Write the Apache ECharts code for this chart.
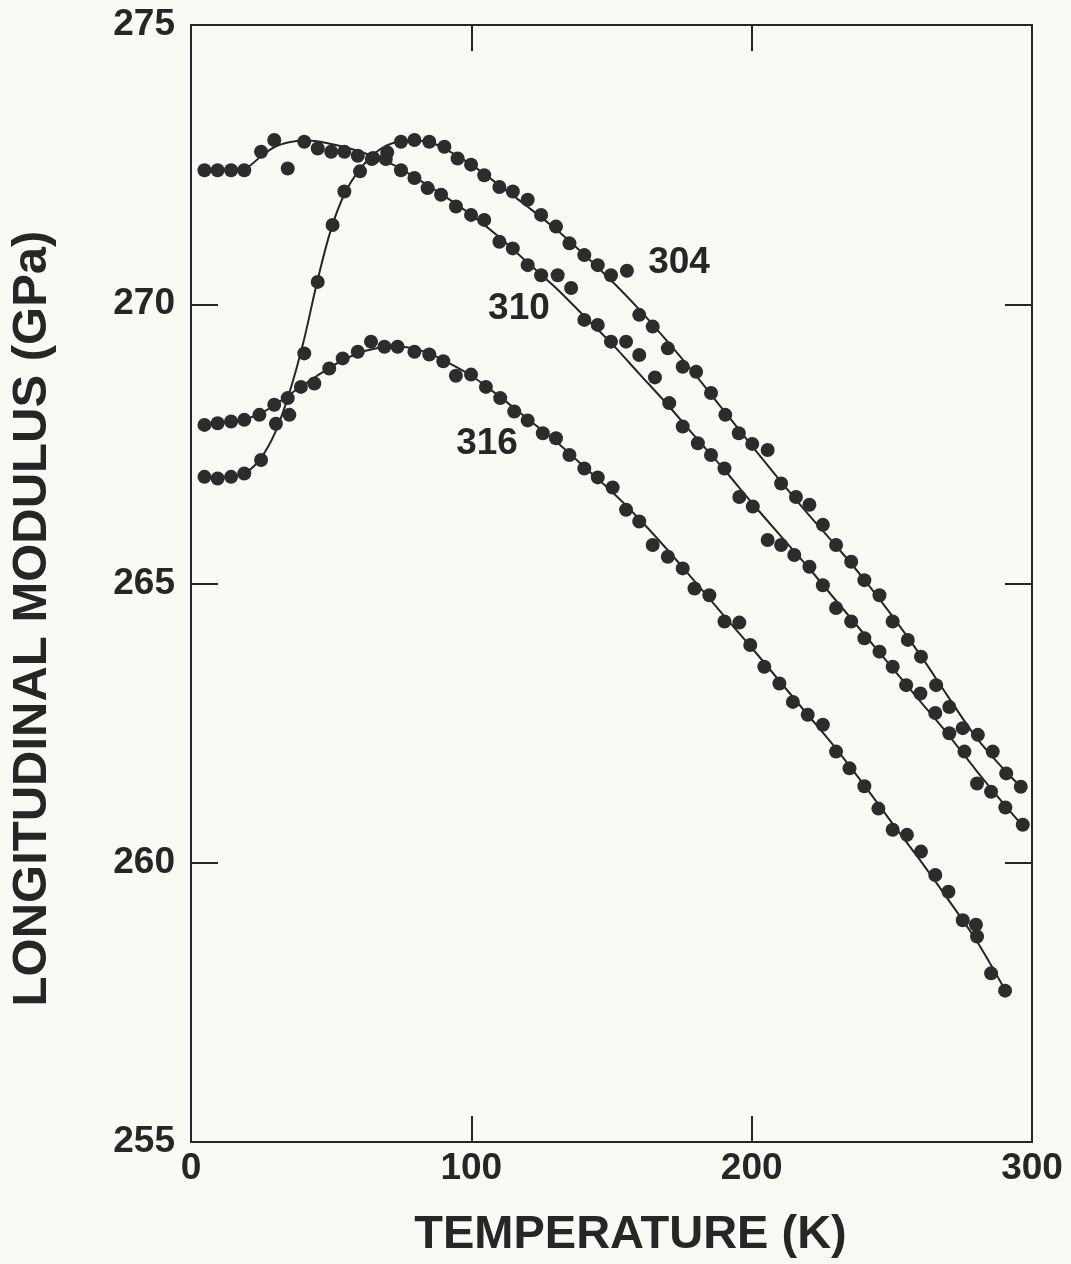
<!DOCTYPE html>
<html>
<head>
<meta charset="utf-8">
<script src="https://cdn.jsdelivr.net/npm/echarts@6/dist/echarts.min.js"></script>
<style>
  html, body { margin: 0; padding: 0; background: #fafaf5; }
  #chart { width: 1071px; height: 1264px; }
</style>
</head>
<body>
<div id="chart"></div>
<script>
// Longitudinal modulus of austenitic stainless steels vs. temperature

// measured points, alloy 304: [T (K), modulus (GPa)]
const dots304 = [
  [4.8,266.91],[9.5,266.88],[14.3,266.91],[19.0,266.97],[25.0,267.21],[30.3,267.86],
  [35.1,268.02],[40.4,269.12],[45.2,270.40],[50.5,271.42],[54.7,272.02],[60.3,272.38],
  [65.0,272.62],[70.0,272.72],[74.9,272.91],[79.7,272.94],[85.0,272.91],[90.4,272.82],
  [95.1,272.61],[99.9,272.50],[104.6,272.31],[110.0,272.10],[114.8,272.02],[120.1,271.87],
  [124.9,271.60],[130.2,271.39],[135.0,271.09],[140.3,270.88],[145.1,270.70],[149.8,270.52],
  [155.5,270.60],[159.9,269.81],[164.7,269.60],[170.1,269.21],[175.4,268.88],[180.2,268.79],
  [185.5,268.41],[190.6,268.02],[195.4,267.69],[200.2,267.50],[205.7,267.39],[210.5,266.79],
  [215.8,266.55],[220.6,266.41],[225.4,266.05],[230.1,265.69],[235.5,265.39],[240.2,265.06],
  [245.6,264.79],[250.3,264.32],[255.7,263.99],[260.4,263.69],[265.8,263.18],[270.5,262.79],
  [275.3,262.41],[280.7,262.29],[286.0,261.99],[290.8,261.60],[296.0,261.36]
];

// measured points, alloy 310
const dots310 = [
  [4.8,272.40],[9.5,272.40],[14.3,272.40],[19.0,272.40],[25.0,272.73],[29.7,272.94],
  [34.5,272.43],[40.4,272.91],[45.2,272.79],[50.0,272.73],[54.7,272.73],[59.5,272.66],
  [64.5,272.60],[69.5,272.60],[74.9,272.40],[79.7,272.26],[84.4,272.08],[89.2,271.96],
  [94.5,271.75],[99.9,271.60],[104.6,271.51],[110.0,271.12],[114.8,271.00],[120.1,270.70],
  [124.9,270.52],[130.8,270.52],[135.6,270.29],[140.3,269.72],[145.1,269.63],[149.8,269.33],
  [155.2,269.33],[159.9,269.09],[165.5,268.69],[170.6,268.23],[175.4,267.81],[180.8,267.51],
  [185.5,267.30],[190.3,267.06],[195.6,266.55],[200.4,266.38],[205.7,265.78],[210.5,265.69],
  [215.2,265.51],[220.6,265.30],[225.4,264.97],[230.1,264.56],[235.5,264.32],[240.2,264.02],
  [245.6,263.78],[250.3,263.51],[255.1,263.18],[260.2,263.03],[265.5,262.68],[270.5,262.32],
  [275.9,261.99],[280.4,261.42],[285.4,261.27],[290.5,260.99],[296.7,260.68]
];

// measured points, alloy 316
const dots316 = [
  [4.8,267.84],[9.5,267.87],[14.3,267.90],[19.0,267.93],[24.4,268.02],[29.7,268.20],
  [34.5,268.32],[39.2,268.52],[44.0,268.58],[49.3,268.85],[54.1,269.03],[59.5,269.15],
  [64.2,269.33],[69.0,269.24],[73.7,269.24],[79.7,269.15],[85.0,269.10],[90.0,268.98],
  [94.5,268.72],[99.9,268.74],[105.2,268.52],[110.3,268.32],[115.3,268.08],[120.1,267.92],
  [125.5,267.69],[130.2,267.60],[135.0,267.30],[140.3,267.06],[145.1,266.90],[150.4,266.72],
  [155.2,266.32],[159.9,266.11],[164.7,265.69],[170.1,265.48],[175.4,265.27],[179.6,264.91],
  [184.9,264.79],[190.3,264.32],[195.6,264.30],[199.5,263.90],[204.5,263.51],[209.9,263.21],
  [214.7,262.88],[220.0,262.65],[225.4,262.47],[230.1,261.99],[234.9,261.69],[240.2,261.37],
  [245.2,260.97],[250.3,260.59],[255.4,260.50],[260.4,260.20],[265.5,259.78],[270.2,259.48],
  [275.3,258.97],[280.0,258.89],[280.4,258.68],[285.4,258.02],[290.4,257.71]
];

// fitted curves
const fit304 = [
  [4.8,266.90],[15,266.92],[20,267.0],[25,267.25],[30,267.7],[35,268.4],[40,269.3],
  [45,270.4],[50,271.35],[55,272.0],[60,272.4],[65,272.68],[70,272.85],[75,272.92],
  [80,272.93],[85,272.9],[90,272.8],[100,272.5],[110,272.13],[120,271.75],[130,271.35],
  [140,270.9],[150,270.42],[160,269.9],[170,269.33],[180,268.73],[190,268.1],[200,267.47],
  [210,266.85],[220,266.25],[230,265.68],[240,265.08],[250,264.43],[260,263.73],
  [270,262.98],[280,262.25],[290,261.67],[296,261.36]
];
const fit310 = [
  [4.8,272.40],[15,272.40],[20,272.45],[25,272.65],[30,272.82],[35,272.9],[40,272.93],
  [45,272.92],[50,272.87],[55,272.81],[60,272.74],[65,272.65],[70,272.55],[75,272.42],
  [80,272.27],[90,271.95],[100,271.6],[110,271.2],[120,270.75],[130,270.3],[140,269.8],
  [150,269.3],[160,268.75],[170,268.2],[180,267.62],[190,267.05],[200,266.45],[210,265.87],
  [220,265.3],[230,264.7],[240,264.1],[250,263.5],[260,262.9],[270,262.3],[280,261.66],
  [290,261.05],[296.7,260.66]
];
const fit316 = [
  [4.8,267.85],[15,267.9],[20,267.95],[25,268.05],[30,268.2],[35,268.38],[40,268.55],
  [45,268.72],[50,268.88],[55,269.02],[60,269.13],[65,269.2],[70,269.24],[75,269.24],
  [80,269.2],[85,269.12],[90,269.0],[100,268.72],[110,268.35],[120,267.95],[130,267.55],
  [140,267.1],[150,266.65],[160,266.15],[170,265.6],[180,265.02],[190,264.43],[200,263.85],
  [210,263.25],[220,262.65],[230,262.05],[240,261.4],[250,260.72],[260,260.05],
  [270,259.35],[280,258.62],[290.4,257.72]
];

// alloy labels and where they sit (T, modulus)
const alloyNames = ['304', '310', '316'];
const labelPos = [[174.1, 270.74], [117.0, 269.91], [105.6, 267.50]];

// axis ticks
const xTicks = [0, 100, 200, 300];
const yTicks = [255, 260, 265, 270, 275];

const FONT = "'Liberation Sans', Arial, sans-serif";
const INK = '#262626';
const DOT = '#2c2c2c';

const chart = echarts.init(document.getElementById('chart'), null, { renderer: 'canvas' });

const tickLabel = { color: INK, fontFamily: FONT, fontWeight: 'bold', fontSize: 37 };

function xAxisDef(pos, showLabels) {
  return {
    type: 'value', position: pos,
    min: xTicks[0], max: xTicks[xTicks.length - 1], interval: 100,
    axisLine: { show: true, onZero: false, lineStyle: { color: INK, width: 2 } },
    axisTick: { show: true, inside: true, length: 26, lineStyle: { color: INK, width: 2 } },
    axisLabel: Object.assign({ show: showLabels, margin: 8 }, tickLabel),
    splitLine: { show: false }
  };
}
function yAxisDef(pos, showLabels) {
  return {
    type: 'value', position: pos,
    min: yTicks[0], max: yTicks[yTicks.length - 1], interval: 5,
    axisLine: { show: true, onZero: false, lineStyle: { color: INK, width: 2 } },
    axisTick: { show: true, inside: true, length: 27, lineStyle: { color: INK, width: 2 } },
    axisLabel: Object.assign({ show: showLabels, margin: 16 }, tickLabel),
    splitLine: { show: false }
  };
}

const xMain = xAxisDef('bottom', true);
xMain.name = 'TEMPERATURE (K)';
xMain.nameLocation = 'middle';
xMain.nameGap = 70;
xMain.nameTextStyle = {
  color: INK, fontFamily: FONT, fontWeight: 'bold', fontSize: 47,
  padding: [0, 0, 0, 38]
};

const yMain = yAxisDef('left', true);
yMain.name = 'LONGITUDINAL MODULUS (GPa)';
yMain.nameLocation = 'middle';
yMain.nameGap = 134;
yMain.nameTextStyle = {
  color: INK, fontFamily: FONT, fontWeight: 'bold', fontSize: 49,
  padding: [0, 70, 0, 0]
};

function lineSeries(data) {
  return {
    type: 'line', data: data, smooth: 0.35, showSymbol: false, symbol: 'none',
    lineStyle: { color: INK, width: 2 }, silent: true, z: 2
  };
}
function dotSeries(data) {
  return {
    type: 'scatter', data: data, symbol: 'circle', symbolSize: 14,
    itemStyle: { color: DOT, opacity: 1 }, z: 3
  };
}

chart.setOption({
  backgroundColor: '#fafaf5',
  animation: false,
  grid: { left: 190, right: 39, top: 25, bottom: 122, containLabel: false },
  xAxis: [xMain, xAxisDef('top', false)],
  yAxis: [yMain, yAxisDef('right', false)],
  series: [
    lineSeries(fit304), lineSeries(fit310), lineSeries(fit316),
    dotSeries(dots304), dotSeries(dots310), dotSeries(dots316),
    {
      type: 'scatter', symbolSize: 0, silent: true, z: 4,
      itemStyle: { opacity: 1 },
      data: alloyNames.map((n, i) => ({ name: n, value: labelPos[i] })),
      label: {
        show: true, position: [0, 0], align: 'center', verticalAlign: 'middle',
        formatter: p => p.name,
        color: INK, fontFamily: FONT, fontWeight: 'bold', fontSize: 37
      }
    }
  ]
});
</script>
</body>
</html>
